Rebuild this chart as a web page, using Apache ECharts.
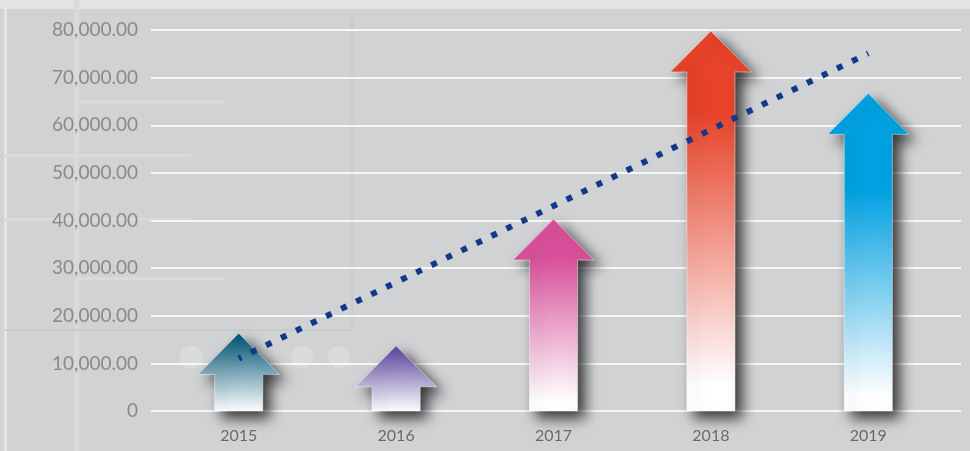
<!DOCTYPE html>
<html>
<head>
<meta charset="utf-8">
<script src="https://cdn.jsdelivr.net/npm/echarts@6/dist/echarts.min.js"></script>
<style>
  html, body { margin: 0; padding: 0; background: #d1d2d4; }
  #chart { width: 970px; height: 451px; }
</style>
</head>
<body>
<div id="chart"></div>
<script>
// Yearly values shown as arrows, plus a linear trend line
const years = ['2015', '2016', '2017', '2018', '2019'];
const arrowValues = [16300, 13700, 40300, 79800, 66700];
const trendValues = [11000, '-', '-', '-', 75100];
const yTicks = [0, 10000, 20000, 30000, 40000, 50000, 60000, 70000, 80000];

// Top colour of each arrow and where its fade to white begins/ends
const arrowColors = ['#045877', '#6552a3', '#d8509a', '#e6432a', '#00a0e1'];
const fadeStart = [0.05, 0.1, 0.2, 0.22, 0.3];
const fadeEnd = [1.0, 1.0, 0.95, 0.93, 0.95];

const chart = echarts.init(document.getElementById('chart'), null, { renderer: 'canvas' });

function fmt(v) {
  if (v === 0) return '0';
  return v.toLocaleString('en-US', { minimumFractionDigits: 2, maximumFractionDigits: 2 });
}

const faint = '#d9dadb';
const deco = [
  { type: 'rect', shape: { x: 0, y: 0, width: 970, height: 9 }, style: { fill: '#e3e3e3' }, z: -10 },
  { type: 'rect', shape: { x: 4, y: 0, width: 3, height: 451 }, style: { fill: '#e4e5e6' }, z: -9 },
  { type: 'rect', shape: { x: 74, y: 0, width: 5, height: 451 }, style: { fill: faint }, z: -9 },
  { type: 'rect', shape: { x: 74, y: 100, width: 150, height: 4 }, style: { fill: faint }, z: -9 },
  { type: 'rect', shape: { x: 4, y: 154, width: 187, height: 3 }, style: { fill: faint }, z: -9 },
  { type: 'rect', shape: { x: 4, y: 218, width: 187, height: 3 }, style: { fill: faint }, z: -9 },
  { type: 'rect', shape: { x: 74, y: 277, width: 150, height: 3 }, style: { fill: faint }, z: -9 },
  { type: 'rect', shape: { x: 4, y: 329, width: 349, height: 2 }, style: { fill: '#cacbcd' }, z: -9 },
  { type: 'rect', shape: { x: 351, y: 30, width: 2, height: 300 }, style: { fill: '#cacbcd' }, z: -9 },
  { type: 'polygon', shape: { points: [[352, 14], [356, 31], [348, 31]] }, style: { fill: '#cacbcd' }, z: -9 },
  { type: 'circle', shape: { cx: 191.5, cy: 357, r: 11.5 }, style: { fill: '#dadbdc' }, z: -8 },
  { type: 'circle', shape: { cx: 302.5, cy: 357, r: 11 }, style: { fill: '#dadbdc' }, z: -8 },
  { type: 'circle', shape: { cx: 339, cy: 357, r: 11 }, style: { fill: '#dadbdc' }, z: -8 }
];

function renderArrow(params, api) {
  const idx = params.dataIndex;
  const tip = api.coord([api.value(0), api.value(1)]);
  const base = api.coord([api.value(0), 0]);
  const band = api.size([1, 0])[0];
  const sw = band * 0.153;
  const hw = band * 0.258;
  const hh = 41;
  const cx = tip[0];
  const sy = tip[1] + hh;
  const pts = [
    [cx, tip[1]], [cx + hw, sy], [cx + sw, sy], [cx + sw, base[1]],
    [cx - sw, base[1]], [cx - sw, sy], [cx - hw, sy]
  ];
  const c = arrowColors[idx];
  return {
    type: 'polygon',
    shape: { points: pts },
    style: {
      fill: new echarts.graphic.LinearGradient(0, 0, 0, 1, [
        { offset: 0, color: c },
        { offset: fadeStart[idx], color: c },
        { offset: fadeEnd[idx], color: '#ffffff' },
        { offset: 1, color: '#ffffff' }
      ]),
      stroke: 'rgba(255,255,255,0.45)',
      lineWidth: 1,
      lineJoin: 'round',
      shadowBlur: 14,
      shadowOffsetX: 7,
      shadowOffsetY: 7,
      shadowColor: 'rgba(0,0,0,0.75)'
    }
  };
}

const option = {
  backgroundColor: '#d1d2d4',
  animation: false,
  graphic: deco,
  grid: [
    { left: 151, right: 9, top: 30, bottom: 40 },
    { left: 160, right: 23, top: 30, bottom: 40 }
  ],
  xAxis: [
    { gridIndex: 0, type: 'value', show: false, min: 0, max: 1 },
    {
      gridIndex: 1, type: 'category', data: years,
      axisLine: { show: false }, axisTick: { show: false },
      axisLabel: { color: '#6a6a6a', fontSize: 16, fontFamily: 'Lato', margin: 17 }
    }
  ],
  yAxis: [
    {
      gridIndex: 0, type: 'value', min: yTicks[0], max: yTicks[yTicks.length - 1],
      interval: yTicks[1] - yTicks[0],
      axisLine: { show: false }, axisTick: { show: false },
      splitLine: { lineStyle: { color: '#f7f7f7', width: 2 } },
      axisLabel: { color: '#8a8a8a', fontSize: 19, fontFamily: 'Lato', margin: 13, formatter: fmt }
    },
    {
      gridIndex: 1, type: 'value', min: yTicks[0], max: yTicks[yTicks.length - 1],
      interval: yTicks[1] - yTicks[0], show: false, splitLine: { show: false }
    }
  ],
  series: [
    {
      type: 'custom',
      xAxisIndex: 1, yAxisIndex: 1,
      data: arrowValues.map((v, i) => [i, v]),
      renderItem: renderArrow,
      z: 2
    },
    {
      type: 'line',
      xAxisIndex: 1, yAxisIndex: 1,
      data: trendValues,
      connectNulls: true,
      symbol: 'none',
      lineStyle: { color: '#12388a', width: 6, type: [6, 10.7], cap: 'butt', dashOffset: 3 },
      z: 5
    }
  ]
};

chart.setOption(option);
</script>
</body>
</html>
